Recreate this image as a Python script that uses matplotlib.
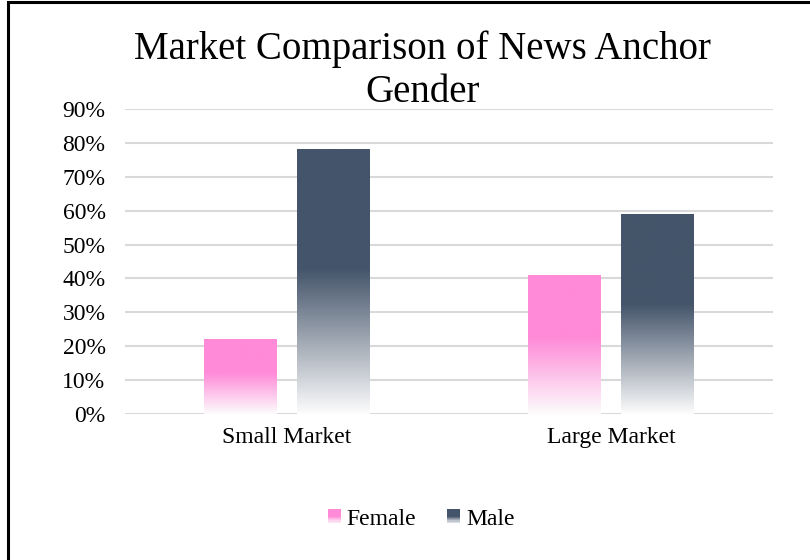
import numpy as np
import matplotlib.pyplot as plt
from matplotlib.colors import to_rgb
from matplotlib.patches import Rectangle
from matplotlib.legend_handler import HandlerBase

plt.rcParams['font.family'] = ['Liberation Serif', 'DejaVu Serif']

# данные
categories = ['Small Market', 'Large Market']
series = ['Female', 'Male']
female = [0.22, 0.41]
male = [0.78, 0.59]
colors = ['#ff8ad8', '#44546a']
yticks = np.arange(0, 0.91, 0.1)


def grad_colors(color, n=256, solid=0.55):
    # снизу почти белый, к верху переходит в сплошной цвет
    c = np.array(to_rgb(color))
    w = np.array([0.99, 0.99, 0.99])
    t = np.linspace(0, 1, n)
    f = np.clip(t / solid, 0, 1)[:, None]
    return w * (1 - f) + c * f


class GradHandler(HandlerBase):
    # квадратик легенды с градиентом
    def create_artists(self, legend, orig_handle, xdescent, ydescent, width, height, fontsize, trans):
        n = 12
        cols = grad_colors(orig_handle.get_facecolor(), n=n)
        arts = []
        for i in range(n):
            r = Rectangle((-xdescent, -ydescent + height * i / n), width, height / n + 0.2,
                          facecolor=cols[i], edgecolor='none', transform=trans)
            arts.append(r)
        return arts


fig = plt.figure(figsize=(8.1, 5.6), dpi=100)
ax = fig.add_axes([0.1543, 0.2607, 0.8, 0.5446])

x = np.arange(len(categories))
w = 0.225
off = 0.143
bars_f = ax.bar(x - off, female, w, color='none', label='Female')
bars_m = ax.bar(x + off, male, w, color='none', label='Male')

for bars, col in [(bars_f, colors[0]), (bars_m, colors[1])]:
    for b in bars:
        x0, y0 = b.get_x(), b.get_y()
        ax.imshow(grad_colors(col)[:, None, :], extent=(x0, x0 + b.get_width(), y0, y0 + b.get_height()),
                  origin='lower', aspect='auto', zorder=3, interpolation='bilinear')

ax.set_xlim(-0.5, 1.5)
ax.set_ylim(0, 0.9)
ax.set_yticks(yticks)
ax.set_yticklabels([f'{int(round(v * 100))}%' for v in yticks], fontsize=17)
ax.set_xticks(x)
ax.set_xticklabels(categories, fontsize=17)
ax.tick_params(axis='both', length=0)
ax.tick_params(axis='x', pad=9)
ax.tick_params(axis='y', pad=14)
ax.grid(axis='y', color='#d9d9d9', linewidth=1.5, zorder=0)
ax.set_axisbelow(True)
for s in ax.spines.values():
    s.set_visible(False)

fig.text(0.5215, 0.874, 'Market Comparison of News Anchor\nGender', ha='center', va='center',
         fontsize=28, linespacing=1.2)

# легенда
handles = [Rectangle((0, 0), 1, 1, facecolor=c) for c in colors]
fig.legend(handles, series, loc='center', bbox_to_anchor=(0.52, 0.072), ncol=2, frameon=False,
           fontsize=17, handlelength=0.55, handleheight=0.55, handletextpad=0.25, columnspacing=1.3,
           handler_map={Rectangle: GradHandler()})

# рамка
fig.patches.append(Rectangle((8 / 810, -0.1), 1.2, 1 - 2 / 560 + 0.1, transform=fig.transFigure,
                             fill=False, edgecolor='black', linewidth=2.2))

fig.savefig('out.png', dpi=100)
